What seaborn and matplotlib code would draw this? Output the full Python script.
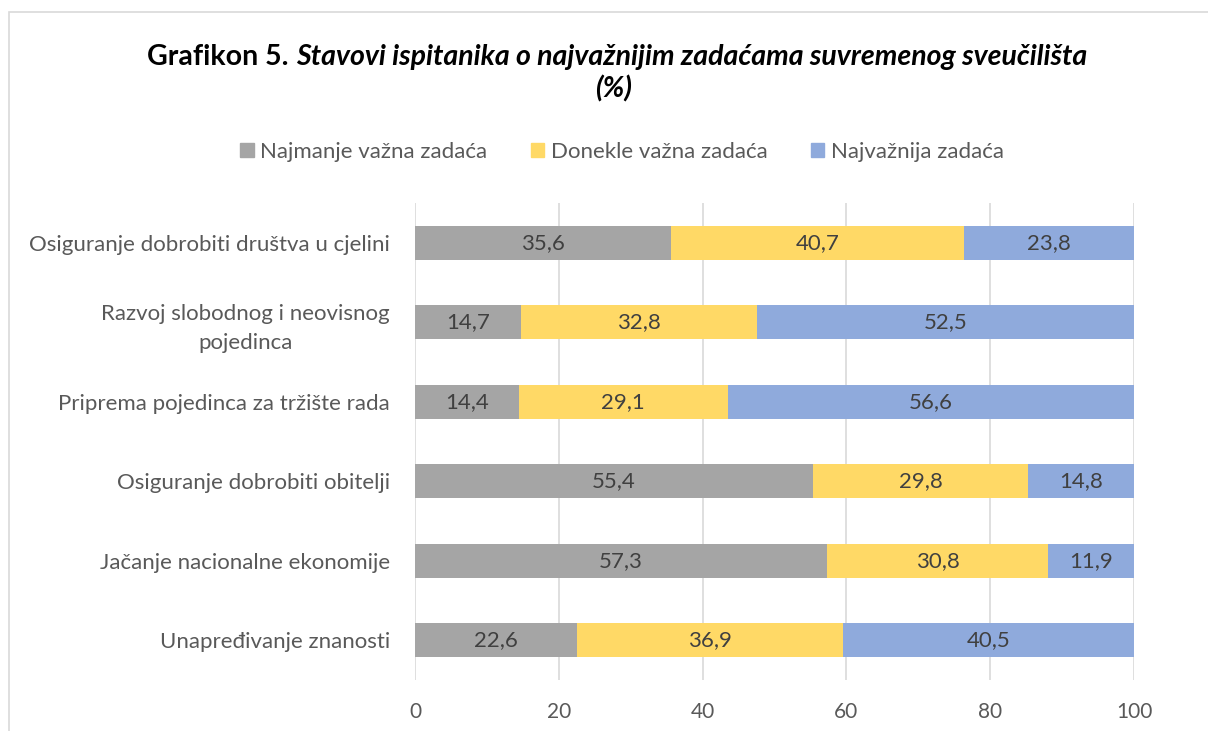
import numpy as np
import pandas as pd
import matplotlib
matplotlib.use("Agg")
import matplotlib.pyplot as plt
from matplotlib.patches import Rectangle
import seaborn as sns

# =========================
# DATA
# =========================

categories = [
    "Osiguranje dobrobiti društva u cjelini",
    "Razvoj slobodnog i neovisnog\npojedinca",
    "Priprema pojedinca za tržište rada",
    "Osiguranje dobrobiti obitelji",
    "Jačanje nacionalne ekonomije",
    "Unapređivanje znanosti",
]

series_names = ["Najmanje važna zadaća", "Donekle važna zadaća", "Najvažnija zadaća"]

najmanje = [35.6, 14.7, 14.4, 55.4, 57.3, 22.6]
donekle = [40.7, 32.8, 29.1, 29.8, 30.8, 36.9]
najvaznija = [23.8, 52.5, 56.6, 14.8, 11.9, 40.5]

x_ticks = [0, 20, 40, 60, 80, 100]

colors = ["#A5A5A5", "#FFD966", "#8FAADC"]
text_col = "#595959"
label_col = "#404040"
font = ["Lato", "DejaVu Sans"]

# =========================
# FIGURE
# =========================

sns.set_theme(style="white")
plt.rcParams["font.family"] = font

df = pd.DataFrame({
    "Kategorija": categories,
    "s1": najmanje,
    "s2": donekle,
    "s3": najvaznija,
})
df["c1"] = df["s1"]
df["c2"] = df["s1"] + df["s2"]
df["c3"] = df["c2"] + df["s3"]

fig = plt.figure(figsize=(12.08, 7.31), dpi=100)
ax = fig.add_axes([415 / 1208, 1 - 680 / 731, (1134 - 415) / 1208, (680 - 203) / 731])

# stacked bars: draw cumulative sums from the longest down
for col, color in zip(["c3", "c2", "c1"], colors[::-1]):
    sns.barplot(
        data=df, x=col, y="Kategorija", color=color, orient="h",
        width=0.43, saturation=1, ax=ax, linewidth=0,
    )

# value labels centred in each segment
for i, row in df.iterrows():
    starts = [0, row["c1"], row["c2"]]
    vals = [row["s1"], row["s2"], row["s3"]]
    for s, v in zip(starts, vals):
        ax.text(s + v / 2, i, f"{v:.1f}".replace(".", ","), ha="center", va="center",
                fontsize=16, color=label_col)

ax.set_xlim(0, 100)
ax.set_ylim(len(categories) - 0.5, -0.5)
ax.set_xticks(x_ticks)
ax.set_xticklabels([str(t) for t in x_ticks])
ax.xaxis.grid(True, color="#D9D9D9", linewidth=1.2)
ax.set_axisbelow(True)
for sp in ax.spines.values():
    sp.set_visible(False)
ax.set_xlabel("")
ax.set_ylabel("")
ax.tick_params(axis="x", length=0, pad=16, labelsize=15, labelcolor=text_col)
ax.tick_params(axis="y", length=0, pad=18, labelsize=16, labelcolor=text_col)
for lab in ax.get_yticklabels():
    lab.set_horizontalalignment("right")
    lab.set_multialignment("center")
    lab.set_linespacing(1.55)

# legend
handles = [Rectangle((0, 0), 1, 1, color=c) for c in colors]
fig.legend(handles, series_names, loc="center", bbox_to_anchor=(622 / 1208, 1 - 152 / 731),
           ncol=3, frameon=False, fontsize=16, labelcolor=text_col,
           handlelength=0.6, handleheight=0.6, handletextpad=0.3, columnspacing=1.95)

# title: bold prefix + bold italic text
fig.canvas.draw()
r = fig.canvas.get_renderer()
t1 = fig.text(0, 1 - 57 / 731, "Grafikon 5. ", fontsize=20.5, fontweight="bold",
              color="black", va="center", ha="left")
t2 = fig.text(0, 1 - 57 / 731, "Stavovi ispitanika o najvažnijim zadaćama suvremenog sveučilišta",
              fontsize=20.5, fontweight="bold", style="italic", color="black", va="center", ha="left")
w1 = t1.get_window_extent(r).width
w2 = t2.get_window_extent(r).width
x0 = 617 - (w1 + w2) / 2
t1.set_x(x0 / 1208)
t2.set_x((x0 + w1) / 1208)
fig.text(614 / 1208, 1 - 89 / 731, "(%)", fontsize=20.5, fontweight="bold", style="italic",
         color="black", va="center", ha="center")

# chart border
fig.add_artist(Rectangle((9 / 1208, -0.1), 1.2, 1.1 - 12 / 731, transform=fig.transFigure,
                         fill=False, edgecolor="#D9D9D9", linewidth=1.2))

fig.savefig("out.png", dpi=100)
